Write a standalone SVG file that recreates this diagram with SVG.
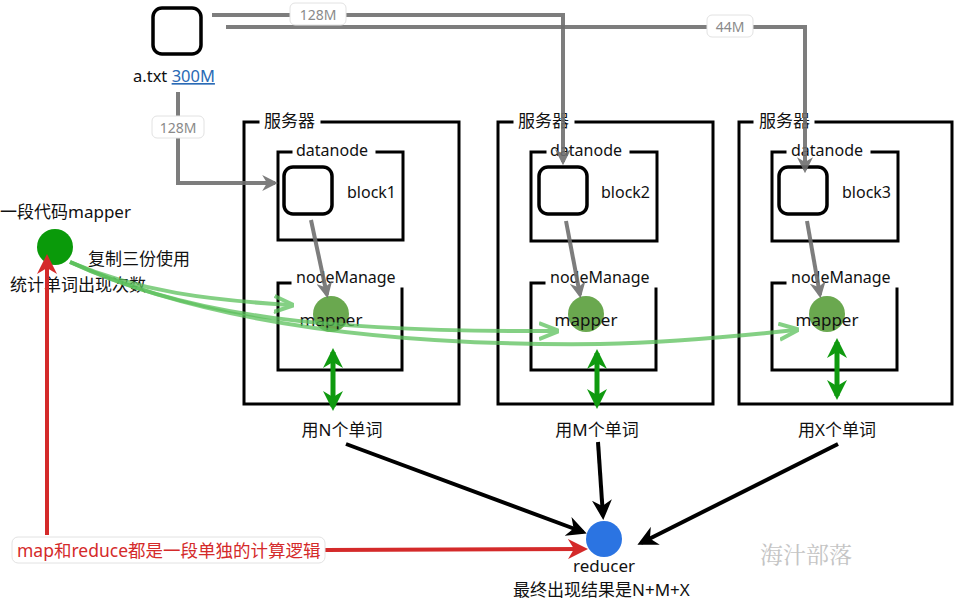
<svg xmlns="http://www.w3.org/2000/svg" width="954" height="604" viewBox="0 0 954 604">
<defs>
<marker id="ag" viewBox="0 0 10 10" refX="8" refY="5" markerWidth="4" markerHeight="4" orient="auto-start-reverse" markerUnits="strokeWidth"><path d="M0,0 L10,5 L0,10 L3,5 Z" fill="#6f6f6f"/></marker>
<marker id="ab" viewBox="0 0 10 10" refX="8" refY="5" markerWidth="5" markerHeight="5" orient="auto" markerUnits="strokeWidth"><path d="M0,0 L10,5 L0,10 L3,5 Z" fill="#000"/></marker>
<marker id="ar" viewBox="0 0 10 10" refX="8" refY="5" markerWidth="5" markerHeight="5" orient="auto" markerUnits="strokeWidth"><path d="M0,0 L10,5 L0,10 L3,5 Z" fill="#d42a2a"/></marker>
<marker id="agr" viewBox="0 0 10 10" refX="8" refY="5" markerWidth="4" markerHeight="4" orient="auto-start-reverse" markerUnits="strokeWidth"><path d="M0,0 L10,5 L0,10 L3,5 Z" fill="#0f9a0f"/></marker>
<marker id="alg" viewBox="0 0 10 10" refX="8" refY="5" markerWidth="5" markerHeight="5" orient="auto" markerUnits="strokeWidth"><path d="M0,1 L10,5 L0,9" fill="none" stroke="#5cc15c" stroke-width="2"/></marker>
</defs>
<style>
text{font-family:"Noto Sans","Noto Sans CJK SC",sans-serif;fill:#111}
.t15{font-size:16px}
.t16{font-size:17px}
.box{fill:none;stroke:#000;stroke-width:3;stroke-linecap:square}
.blk{fill:#fff;stroke:#000;stroke-width:3.5}
.gline{fill:none;stroke:#6f6f6f;stroke-width:4;opacity:0.9}
.lbl{fill:#fff;stroke:#e2e2e2;stroke-width:1}
.lbt{font-size:14px;fill:#8a8a8a;text-anchor:middle}
.mapc{fill:#6aa84f}
.bline{fill:none;stroke:#000;stroke-width:4}
.green2{fill:none;stroke:#0f9a0f;stroke-width:5}
.lgreen{fill:none;stroke:#5cc15c;stroke-width:4;opacity:0.75}
</style>

<g id="file">
<rect x="153" y="8" width="48" height="46" rx="9" class="blk"/>
<text x="133" y="82" class="t15" style="font-size:16.5px">a.txt <tspan fill="#2a6ab5" text-decoration="underline">300M</tspan></text>
</g>

<g id="server1">
<path class="box" d="M258,122 H244 V404 H459 V122 H322"/>
<text x="264" y="127" class="t16">服务器</text>
<path class="box" d="M291,152 H278 V240 H403 V152 H377"/>
<text x="296" y="156" class="t15">datanode</text>
<rect x="284" y="167" width="48" height="47" rx="9" class="blk"/>
<text x="347" y="198" class="t15">block1</text>
<path class="box" d="M290,283 H278 V370 H402 V289"/>
<text x="296" y="283" class="t15">nodeManage</text>
<circle cx="331" cy="314" r="18" class="mapc"/>
<text x="331" y="326" class="t16" text-anchor="middle">mapper</text>
<text x="342" y="436" class="t16" text-anchor="middle">用N个单词</text>
</g>

<g id="server2">
<path class="box" d="M512,122 H498 V404 H713 V122 H576"/>
<text x="518" y="127" class="t16">服务器</text>
<path class="box" d="M545,152 H531 V241 H657 V152 H631"/>
<text x="550" y="156" class="t15">datanode</text>
<rect x="539" y="167" width="48" height="47" rx="9" class="blk"/>
<text x="601" y="198" class="t15">block2</text>
<path class="box" d="M544,283 H531 V370 H656 V289"/>
<text x="550" y="283" class="t15">nodeManage</text>
<circle cx="586" cy="314" r="18" class="mapc"/>
<text x="586" y="326" class="t16" text-anchor="middle">mapper</text>
<text x="597" y="436" class="t16" text-anchor="middle">用M个单词</text>
</g>

<g id="server3">
<path class="box" d="M752,122 H739 V404 H952 V122 H816"/>
<text x="759" y="127" class="t16">服务器</text>
<path class="box" d="M785,152 H772 V241 H898 V152 H872"/>
<text x="791" y="156" class="t15">datanode</text>
<rect x="779" y="167" width="48" height="47" rx="9" class="blk"/>
<text x="842" y="198" class="t15">block3</text>
<path class="box" d="M785,283 H772 V370 H897 V289"/>
<text x="791" y="283" class="t15">nodeManage</text>
<circle cx="827" cy="314" r="18" class="mapc"/>
<text x="827" y="326" class="t16" text-anchor="middle">mapper</text>
<text x="837" y="436" class="t16" text-anchor="middle">用X个单词</text>
</g>

<g id="code">
<circle cx="55" cy="247" r="18" fill="#0a9a0a"/>
<text x="0" y="218" class="t16">一段代码mapper</text>
<text x="88" y="265" class="t16">复制三份使用</text>
<text x="10" y="291" class="t16">统计单词出现次数</text>
</g>

<g id="reducer">
<circle cx="604" cy="539" r="18" fill="#2b74e2"/>
<text x="604" y="572" class="t16" text-anchor="middle">reducer</text>
<text x="513" y="596" class="t16">最终出现结果是N+M+X</text>
</g>

<g id="watermark">
<text x="760" y="563" style="font-size:23px;fill:#c4c4c4;font-family:'Noto Serif CJK SC','Noto Sans CJK SC',serif">海汁部落</text>
</g>

<g id="connectors">
<path class="gline" d="M212,15 H563 V162" marker-end="url(#ag)"/>
<path class="gline" d="M226,27 H805 V170" marker-end="url(#ag)"/>
<path class="gline" d="M178,92 V183 H275" marker-end="url(#ag)"/>
<line class="gline" x1="311" y1="220" x2="327" y2="295" marker-end="url(#ag)"/>
<line class="gline" x1="566" y1="221" x2="580" y2="295" marker-end="url(#ag)"/>
<line class="gline" x1="807" y1="221" x2="820" y2="295" marker-end="url(#ag)"/>

<path class="lgreen" d="M70,262 C140,292 210,300 290,305" marker-end="url(#alg)"/>
<path class="lgreen" d="M70,262 C190,318 330,332 555,331" marker-end="url(#alg)"/>
<path class="lgreen" d="M70,262 C220,330 420,346 600,344 C680,342 740,336 795,330" marker-end="url(#alg)"/>

<line class="green2" x1="333" y1="352" x2="333" y2="407" marker-start="url(#agr)" marker-end="url(#agr)"/>
<line class="green2" x1="597" y1="353" x2="597" y2="405" marker-start="url(#agr)" marker-end="url(#agr)"/>
<line class="green2" x1="837" y1="342" x2="837" y2="396" marker-start="url(#agr)" marker-end="url(#agr)"/>

<line class="bline" x1="346" y1="444" x2="583" y2="532" marker-end="url(#ab)"/>
<line class="bline" x1="598" y1="442" x2="603" y2="516" marker-end="url(#ab)"/>
<line class="bline" x1="838" y1="444" x2="641" y2="543" marker-end="url(#ab)"/>

<line x1="47" y1="535" x2="47" y2="258" stroke="#d42a2a" stroke-width="4" marker-end="url(#ar)"/>
<line x1="325" y1="550" x2="584" y2="549" stroke="#d42a2a" stroke-width="4" marker-end="url(#ar)"/>
</g>

<g id="labels">
<rect x="290" y="3" width="56" height="22" rx="5" class="lbl"/>
<text x="318" y="20" class="lbt">128M</text>
<rect x="707" y="15" width="46" height="22" rx="5" class="lbl"/>
<text x="730" y="32" class="lbt">44M</text>
<rect x="152" y="116" width="52" height="22" rx="5" class="lbl"/>
<text x="178" y="133" class="lbt">128M</text>
<rect x="12" y="537" width="313" height="26" rx="6" class="lbl"/>
<text x="17" y="557" style="fill:#d42a2a;font-size:17.5px">map和reduce都是一段单独的计算逻辑</text>
</g>
</svg>
